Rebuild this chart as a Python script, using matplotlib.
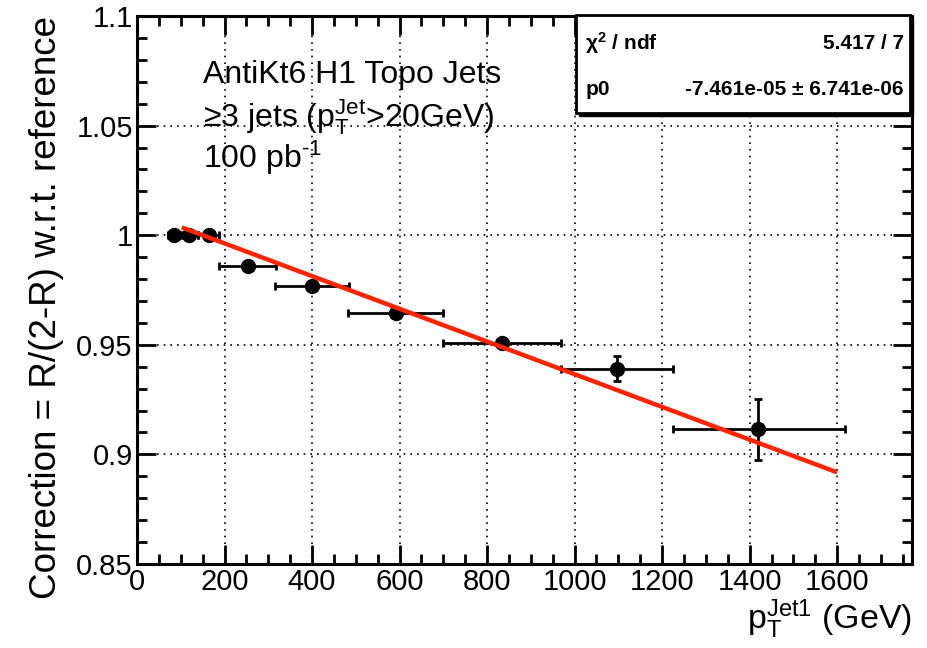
import numpy as np
import matplotlib.pyplot as plt
from matplotlib.ticker import MultipleLocator
from matplotlib.patches import Rectangle

plt.rcParams['font.family'] = ['Liberation Sans', 'DejaVu Sans']
plt.rcParams['mathtext.fontset'] = 'custom'
plt.rcParams['mathtext.rm'] = 'Liberation Sans'
plt.rcParams['mathtext.it'] = 'Liberation Sans:italic'
plt.rcParams['mathtext.bf'] = 'Liberation Sans:bold'

# data
pt = [84, 118, 164, 253, 400, 591, 834, 1096, 1418]
corr = [1.0, 1.0, 1.0, 0.986, 0.9769, 0.9646, 0.9507, 0.9391, 0.9114]
x_lo = [70, 100, 140, 188, 316, 482, 700, 969, 1224]
x_hi = [100, 140, 187, 318, 484, 700, 969, 1226, 1619]
y_err = [0.0003, 0.0003, 0.0004, 0.0006, 0.0008, 0.0010, 0.0016, 0.0056, 0.0141]

p0 = -7.461e-05
fit_range = [107, 1595]
fit_ref = 150.0

pt = np.array(pt, dtype=float)
corr = np.array(corr)
xerr = [pt - np.array(x_lo), np.array(x_hi) - pt]

fig = plt.figure(figsize=(9.27, 6.48), dpi=100)
ax = fig.add_axes([0.1478, 0.1296, 0.8360, 0.8457])

ax.errorbar(pt, corr, xerr=xerr, yerr=y_err, fmt='o', color='black',
            markersize=10, elinewidth=2, capsize=3, capthick=2, zorder=3)

xf = np.linspace(fit_range[0], fit_range[1], 2)
ax.plot(xf, 1 + p0 * (xf - fit_ref), color='#ff2400', lw=3.2, zorder=4)

ax.set_xlim(0, 1771)
ax.set_ylim(0.85, 1.1)
ax.xaxis.set_minor_locator(MultipleLocator(50))
ax.yaxis.set_minor_locator(MultipleLocator(0.01))
ax.set_xticks(np.arange(0, 1601, 200))
ax.set_yticks([0.85, 0.9, 0.95, 1.0, 1.05, 1.1])
ax.set_yticklabels(['0.85', '0.9', '0.95', '1', '1.05', '1.1'])
ax.tick_params(which='both', direction='in', top=True, right=True, width=2,
               labelsize=21, color='black')
ax.tick_params(which='major', length=14, pad=3)
ax.tick_params(which='minor', length=7)
for s in ax.spines.values():
    s.set_linewidth(2.2)
ax.grid(True, which='major', linestyle=(0, (1, 3)), color='black', lw=1.2)

ax.set_xlabel(r'$\mathregular{p_T^{Jet1}}$ (GeV)', fontsize=24.5, loc='right', labelpad=1)
ax.set_ylabel('Correction = R/(2-R) w.r.t. reference', fontsize=26.5, loc='top', labelpad=9)

ax.text(0.085, 0.892, 'AntiKt6 H1 Topo Jets', transform=ax.transAxes,
        fontsize=23, va='center')
ax.text(0.085, 0.815, r'≥3 jets ($\mathregular{p_T^{Jet}}$>20GeV)', transform=ax.transAxes,
        fontsize=23, va='center')
ax.text(0.085, 0.742, r'100 pb$^{\mathregular{\text{-}1}}$', transform=ax.transAxes,
        fontsize=23, va='center')

# stats box
bx0, by0 = 576 / 927, 1 - 113 / 648
bw, bh = (910 - 576) / 927, (113 - 15) / 648
fig.patches.append(Rectangle((bx0 + 0.003, by0 - 0.004), bw, bh, transform=fig.transFigure,
                             facecolor='black', edgecolor='black', zorder=5))
fig.patches.append(Rectangle((bx0, by0), bw, bh, transform=fig.transFigure,
                             facecolor='white', edgecolor='black', lw=2, zorder=6))
fig.text(bx0 + 0.01, by0 + bh * 0.71, r'$\mathregular{\chi^2}$ / ndf', fontsize=15,
         fontweight='bold', va='center', zorder=7)
fig.text(bx0 + bw - 0.007, by0 + bh * 0.71, '5.417 / 7', fontsize=15,
         fontweight='bold', va='center', ha='right', zorder=7)
fig.text(bx0 + 0.01, by0 + bh * 0.235, 'p0', fontsize=15,
         fontweight='bold', va='center', zorder=7)
fig.text(bx0 + bw - 0.007, by0 + bh * 0.235, '-7.461e-05 ± 6.741e-06', fontsize=15,
         fontweight='bold', va='center', ha='right', zorder=7)

fig.savefig('out.png', dpi=100)
